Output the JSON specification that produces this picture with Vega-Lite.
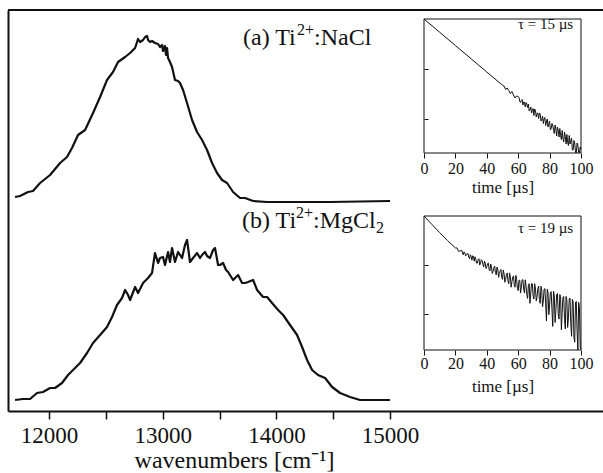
{
  "$schema": "https://vega.github.io/schema/vega-lite/v6.json",
  "autosize": "none",
  "width": 595,
  "height": 401,
  "padding": {"left": 8, "top": 10, "right": 0, "bottom": 62},
  "background": "white",
  "config": {
    "font": "Liberation Serif",
    "view": {"stroke": null},
    "style": {"guide-label": {"font": "Liberation Serif"}, "guide-title": {"font": "Liberation Serif"}},
    "axis": {"grid": false, "labelFont": "Liberation Serif", "titleFont": "Liberation Serif", "titleFontWeight": "normal", "labelColor": "#111", "titleColor": "#111", "domainColor": "#111", "tickColor": "#111"},
    "text": {"font": "Liberation Serif", "color": "#111"}
  },
  "datasets": {
    "spectra": [
      {"s":"a","w":11701,"v":2.14},{"s":"a","w":11745,"v":2.15},{"s":"a","w":11815,"v":2.19},{"s":"a","w":11859,"v":2.2},{"s":"a","w":11921,"v":2.28},{"s":"a","w":12009,"v":2.36},{"s":"a","w":12097,"v":2.48},{"s":"a","w":12158,"v":2.54},{"s":"a","w":12202,"v":2.63},{"s":"a","w":12255,"v":2.76},{"s":"a","w":12317,"v":2.81},{"s":"a","w":12387,"v":2.98},{"s":"a","w":12449,"v":3.14},{"s":"a","w":12510,"v":3.31},{"s":"a","w":12563,"v":3.39},{"s":"a","w":12607,"v":3.49},{"s":"a","w":12669,"v":3.54},{"s":"a","w":12713,"v":3.58},{"s":"a","w":12757,"v":3.63},{"s":"a","w":12783,"v":3.72},{"s":"a","w":12801,"v":3.69},{"s":"a","w":12827,"v":3.71},{"s":"a","w":12845,"v":3.74},{"s":"a","w":12862,"v":3.75},{"s":"a","w":12871,"v":3.71},{"s":"a","w":12889,"v":3.69},{"s":"a","w":12906,"v":3.7},{"s":"a","w":12932,"v":3.68},{"s":"a","w":12959,"v":3.67},{"s":"a","w":12976,"v":3.64},{"s":"a","w":12994,"v":3.66},{"s":"a","w":13003,"v":3.6},{"s":"a","w":13020,"v":3.65},{"s":"a","w":13029,"v":3.56},{"s":"a","w":13038,"v":3.63},{"s":"a","w":13047,"v":3.53},{"s":"a","w":13064,"v":3.49},{"s":"a","w":13082,"v":3.44},{"s":"a","w":13108,"v":3.31},{"s":"a","w":13135,"v":3.3},{"s":"a","w":13152,"v":3.28},{"s":"a","w":13179,"v":3.21},{"s":"a","w":13214,"v":3.08},{"s":"a","w":13258,"v":2.91},{"s":"a","w":13302,"v":2.79},{"s":"a","w":13346,"v":2.71},{"s":"a","w":13390,"v":2.61},{"s":"a","w":13434,"v":2.48},{"s":"a","w":13478,"v":2.38},{"s":"a","w":13522,"v":2.31},{"s":"a","w":13566,"v":2.28},{"s":"a","w":13619,"v":2.19},{"s":"a","w":13680,"v":2.13},{"s":"a","w":13724,"v":2.13},{"s":"a","w":13795,"v":2.1},{"s":"a","w":13918,"v":2.09},{"s":"a","w":14472,"v":2.09},{"s":"a","w":15000,"v":2.1},
      {"s":"b","w":11701,"v":0.11},{"s":"b","w":11771,"v":0.12},{"s":"b","w":11833,"v":0.12},{"s":"b","w":11894,"v":0.18},{"s":"b","w":11947,"v":0.19},{"s":"b","w":12009,"v":0.23},{"s":"b","w":12053,"v":0.23},{"s":"b","w":12114,"v":0.28},{"s":"b","w":12167,"v":0.36},{"s":"b","w":12229,"v":0.43},{"s":"b","w":12273,"v":0.48},{"s":"b","w":12334,"v":0.58},{"s":"b","w":12387,"v":0.68},{"s":"b","w":12449,"v":0.76},{"s":"b","w":12510,"v":0.84},{"s":"b","w":12554,"v":0.94},{"s":"b","w":12598,"v":1.06},{"s":"b","w":12642,"v":1.13},{"s":"b","w":12669,"v":1.21},{"s":"b","w":12695,"v":1.16},{"s":"b","w":12713,"v":1.11},{"s":"b","w":12757,"v":1.24},{"s":"b","w":12783,"v":1.18},{"s":"b","w":12827,"v":1.28},{"s":"b","w":12871,"v":1.33},{"s":"b","w":12906,"v":1.38},{"s":"b","w":12932,"v":1.58},{"s":"b","w":12959,"v":1.48},{"s":"b","w":12976,"v":1.53},{"s":"b","w":13003,"v":1.54},{"s":"b","w":13020,"v":1.46},{"s":"b","w":13047,"v":1.59},{"s":"b","w":13064,"v":1.49},{"s":"b","w":13082,"v":1.63},{"s":"b","w":13108,"v":1.49},{"s":"b","w":13135,"v":1.59},{"s":"b","w":13170,"v":1.53},{"s":"b","w":13196,"v":1.66},{"s":"b","w":13214,"v":1.71},{"s":"b","w":13240,"v":1.49},{"s":"b","w":13267,"v":1.53},{"s":"b","w":13302,"v":1.58},{"s":"b","w":13328,"v":1.53},{"s":"b","w":13346,"v":1.56},{"s":"b","w":13372,"v":1.59},{"s":"b","w":13390,"v":1.55},{"s":"b","w":13416,"v":1.53},{"s":"b","w":13443,"v":1.61},{"s":"b","w":13460,"v":1.63},{"s":"b","w":13487,"v":1.46},{"s":"b","w":13504,"v":1.46},{"s":"b","w":13531,"v":1.48},{"s":"b","w":13557,"v":1.41},{"s":"b","w":13575,"v":1.39},{"s":"b","w":13619,"v":1.31},{"s":"b","w":13663,"v":1.36},{"s":"b","w":13698,"v":1.28},{"s":"b","w":13724,"v":1.28},{"s":"b","w":13751,"v":1.29},{"s":"b","w":13795,"v":1.31},{"s":"b","w":13830,"v":1.21},{"s":"b","w":13883,"v":1.14},{"s":"b","w":13918,"v":1.14},{"s":"b","w":13962,"v":1.08},{"s":"b","w":14015,"v":1.01},{"s":"b","w":14059,"v":0.96},{"s":"b","w":14120,"v":0.86},{"s":"b","w":14182,"v":0.76},{"s":"b","w":14226,"v":0.64},{"s":"b","w":14270,"v":0.51},{"s":"b","w":14314,"v":0.41},{"s":"b","w":14366,"v":0.36},{"s":"b","w":14428,"v":0.33},{"s":"b","w":14490,"v":0.24},{"s":"b","w":14560,"v":0.18},{"s":"b","w":14648,"v":0.14},{"s":"b","w":14736,"v":0.11},{"s":"b","w":14982,"v":0.11},{"s":"b","w":15000,"v":0.11}
    ],
    "labels": [
      {"w":13707,"v":3.66,"head":"(a) Ti","sup":"2+","tail":":NaCl"},
      {"w":13698,"v":1.83,"head":"(b) Ti","sup":"2+","tail":":MgCl"}
    ],
    "subs": [
      {"w":13698,"v":1.83,"sub":"2"}
    ],
    "d1": [
      {"t":0,"l":0},{"t":10,"l":-0.265},{"t":20,"l":-0.53},{"t":30,"l":-0.795},{"t":40,"l":-1.06},{"t":50,"l":-1.325},
      {"t":51,"l":-1.34},{"t":52,"l":-1.41},{"t":53,"l":-1.38},{"t":54,"l":-1.43},{"t":55,"l":-1.49},{"t":56,"l":-1.45},{"t":57,"l":-1.52},{"t":58,"l":-1.58},{"t":59,"l":-1.54},{"t":60,"l":-1.55},
      {"t":61,"l":-1.65},{"t":62,"l":-1.63},{"t":63,"l":-1.72},{"t":64,"l":-1.67},{"t":65,"l":-1.67},{"t":66,"l":-1.77},{"t":67,"l":-1.84},{"t":68,"l":-1.76},{"t":69,"l":-1.83},{"t":70,"l":-1.93},
      {"t":71,"l":-1.83},{"t":72,"l":-1.89},{"t":73,"l":-1.99},{"t":74,"l":-1.9},{"t":75,"l":-2.02},{"t":76,"l":-2.09},{"t":77,"l":-1.97},{"t":78,"l":-2.06},{"t":79,"l":-2.16},{"t":80,"l":-2.04},
      {"t":81,"l":-2.19},{"t":82,"l":-2.12},{"t":83,"l":-2.29},{"t":84,"l":-2.2},{"t":85,"l":-2.16},{"t":86,"l":-2.36},{"t":87,"l":-2.33},{"t":88,"l":-2.23},{"t":89,"l":-2.46},{"t":90,"l":-2.35},
      {"t":91,"l":-2.31},{"t":92,"l":-2.53},{"t":93,"l":-2.5},{"t":94,"l":-2.38},{"t":95,"l":-2.62},{"t":96,"l":-2.48},{"t":97,"l":-2.68},{"t":98,"l":-2.52},{"t":99,"l":-2.67},{"t":100,"l":-2.6},
      {"t":60.5,"l":-1.57},{"t":61.5,"l":-1.67},{"t":62.5,"l":-1.61},{"t":63.5,"l":-1.66},{"t":64.5,"l":-1.76},{"t":65.5,"l":-1.7},{"t":66.5,"l":-1.7},{"t":67.5,"l":-1.82},{"t":68.5,"l":-1.88},{"t":69.5,"l":-1.79},
      {"t":70.5,"l":-1.8},{"t":71.5,"l":-1.96},{"t":72.5,"l":-1.88},{"t":73.5,"l":-1.88},{"t":74.5,"l":-2.04},{"t":75.5,"l":-1.94},{"t":76.5,"l":-2.0},{"t":77.5,"l":-2.13},{"t":78.5,"l":-2.0},{"t":79.5,"l":-2.09},
      {"t":80.5,"l":-2.22},{"t":81.5,"l":-2.09},{"t":82.5,"l":-2.23},{"t":83.5,"l":-2.12},{"t":84.5,"l":-2.34},{"t":85.5,"l":-2.23},{"t":86.5,"l":-2.19},{"t":87.5,"l":-2.41},{"t":88.5,"l":-2.38},{"t":89.5,"l":-2.26},
      {"t":90.5,"l":-2.5},{"t":91.5,"l":-2.47},{"t":92.5,"l":-2.33},{"t":93.5,"l":-2.43},{"t":94.5,"l":-2.62},{"t":95.5,"l":-2.43},{"t":96.5,"l":-2.66},{"t":97.5,"l":-2.48},{"t":98.5,"l":-2.67},{"t":99.5,"l":-2.56}
    ],
    "d2": [
      {"t":0,"l":0},{"t":5,"l":-0.17},{"t":10,"l":-0.34},{"t":15,"l":-0.5},{"t":20,"l":-0.65},
      {"t":21,"l":-0.65},{"t":22,"l":-0.72},{"t":23,"l":-0.71},{"t":24,"l":-0.7},{"t":25,"l":-0.79},{"t":26,"l":-0.75},{"t":27,"l":-0.8},{"t":28,"l":-0.76},{"t":29,"l":-0.87},{"t":30,"l":-0.82},
      {"t":31,"l":-0.81},{"t":32,"l":-0.92},{"t":33,"l":-0.88},{"t":34,"l":-0.96},{"t":35,"l":-0.87},{"t":36,"l":-0.96},{"t":37,"l":-0.91},{"t":38,"l":-1.04},{"t":39,"l":-0.96},{"t":40,"l":-1.03},
      {"t":41,"l":-0.96},{"t":42,"l":-1.12},{"t":43,"l":-1.04},{"t":44,"l":-1.13},{"t":45,"l":-1.02},{"t":46,"l":-1.2},{"t":47,"l":-1.08},{"t":48,"l":-1.17},{"t":49,"l":-1.09},{"t":50,"l":-1.29},
      {"t":51,"l":-1.18},{"t":52,"l":-1.29},{"t":53,"l":-1.16},{"t":54,"l":-1.38},{"t":55,"l":-1.24},{"t":56,"l":-1.34},{"t":57,"l":-1.22},{"t":58,"l":-1.45},{"t":59,"l":-1.29},{"t":60,"l":-1.52},
      {"t":61,"l":-1.31},{"t":62,"l":-1.45},{"t":63,"l":-1.3},{"t":64,"l":-1.57},{"t":65,"l":-1.43},{"t":66,"l":-1.68},{"t":67,"l":-1.38},{"t":68,"l":-1.57},{"t":69,"l":-1.38},{"t":70,"l":-1.69},
      {"t":71,"l":-1.49},{"t":72,"l":-1.65},{"t":73,"l":-1.43},{"t":74,"l":-1.78},{"t":75,"l":-1.51},{"t":76,"l":-1.73},{"t":77,"l":-1.48},{"t":78,"l":-2.14},{"t":79,"l":-1.56},{"t":80,"l":-1.82},
      {"t":81,"l":-1.54},{"t":82,"l":-2.25},{"t":83,"l":-1.63},{"t":84,"l":-1.92},{"t":85,"l":-1.58},{"t":86,"l":-2.1},{"t":87,"l":-1.64},{"t":88,"l":-1.96},{"t":89,"l":-1.64},{"t":90,"l":-2.3},
      {"t":91,"l":-1.71},{"t":92,"l":-2.07},{"t":93,"l":-1.67},{"t":94,"l":-2.45},{"t":95,"l":-1.74},{"t":96,"l":-2.57},{"t":97,"l":-1.74},{"t":98,"l":-2.73},{"t":99,"l":-1.86},{"t":100,"l":-2.72},
      {"t":25.5,"l":-0.73},{"t":26.5,"l":-0.81},{"t":27.5,"l":-0.77},{"t":28.5,"l":-0.84},{"t":29.5,"l":-0.79},{"t":30.5,"l":-0.9},{"t":31.5,"l":-0.83},{"t":32.5,"l":-0.83},{"t":33.5,"l":-0.96},{"t":34.5,"l":-0.89},
      {"t":35.5,"l":-1.0},{"t":36.5,"l":-0.89},{"t":37.5,"l":-0.98},{"t":38.5,"l":-0.92},{"t":39.5,"l":-1.07},{"t":40.5,"l":-0.97},{"t":41.5,"l":-1.09},{"t":42.5,"l":-0.98},{"t":43.5,"l":-1.17},{"t":44.5,"l":-1.06},
      {"t":45.5,"l":-1.15},{"t":46.5,"l":-1.04},{"t":47.5,"l":-1.25},{"t":48.5,"l":-1.12},{"t":49.5,"l":-1.25},{"t":50.5,"l":-1.1},{"t":51.5,"l":-1.35},{"t":52.5,"l":-1.19},{"t":53.5,"l":-1.33},{"t":54.5,"l":-1.16},
      {"t":55.5,"l":-1.45},{"t":56.5,"l":-1.25},{"t":57.5,"l":-1.41},{"t":58.5,"l":-1.21},{"t":59.5,"l":-1.48},{"t":60.5,"l":-1.31},{"t":61.5,"l":-1.57},{"t":62.5,"l":-1.3},{"t":63.5,"l":-1.49},{"t":64.5,"l":-1.3},
      {"t":65.5,"l":-1.6},{"t":66.5,"l":-1.41},{"t":67.5,"l":-1.78},{"t":68.5,"l":-1.38},{"t":69.5,"l":-1.63},{"t":70.5,"l":-1.38},{"t":71.5,"l":-1.73},{"t":72.5,"l":-1.48},{"t":73.5,"l":-1.7},{"t":74.5,"l":-1.43},
      {"t":75.5,"l":-1.85},{"t":76.5,"l":-1.49},{"t":77.5,"l":-1.79},{"t":78.5,"l":-1.49},{"t":79.5,"l":-2.01},{"t":80.5,"l":-1.56},{"t":81.5,"l":-1.91},{"t":82.5,"l":-1.53},{"t":83.5,"l":-2.17},{"t":84.5,"l":-1.6},
      {"t":85.5,"l":-1.99},{"t":86.5,"l":-1.6},{"t":87.5,"l":-2.32},{"t":88.5,"l":-1.66},{"t":89.5,"l":-2.09},{"t":90.5,"l":-1.64},{"t":91.5,"l":-2.27},{"t":92.5,"l":-1.69},{"t":93.5,"l":-2.19},{"t":94.5,"l":-1.7},
      {"t":95.5,"l":-2.47},{"t":96.5,"l":-1.76},{"t":97.5,"l":-2.34},{"t":98.5,"l":-1.76},{"t":99.5,"l":-2.67}
    ]
  },
  "layer": [
    {
      "layer": [
        {
          "data": {"name": "spectra"},
          "mark": {"type": "line", "stroke": "#111", "strokeWidth": 2.2, "strokeJoin": "round"},
          "encoding": {
            "x": {"field": "w", "type": "quantitative",
              "scale": {"domain": [11639, 16873], "nice": false, "zero": false},
              "axis": {"orient": "bottom", "values": [12000, 12500, 13000, 13500, 14000, 14500, 15000], "format": "d",
                "labelExpr": "datum.value % 1000 === 0 ? datum.label : ''",
                "domainWidth": 2, "tickWidth": 1.5, "tickSize": 8, "labelFont": "Liberation Serif", "labelFontSize": 23, "labelPadding": 23, "labelBaseline": "alphabetic",
                "labelFlush": false, "labelOverlap": false,
                "title": "wavenumbers [cm⁻¹]", "titleFont": "Liberation Serif", "titleFontSize": 24, "titleFontWeight": "normal", "titleX": 226, "titleY": 56, "titleBaseline": "alphabetic", "titleAlign": "center"}},
            "y": {"field": "v", "type": "quantitative",
              "scale": {"domain": [0, 4.01], "nice": false, "zero": false},
              "axis": {"orient": "left", "domainWidth": 2, "ticks": false, "labels": false, "title": null}},
            "detail": {"field": "s"}
          }
        },
        {
          "data": {"name": "labels"},
          "mark": {"type": "text", "align": "left", "baseline": "alphabetic", "fontSize": 24, "font": "Liberation Serif"},
          "encoding": {
            "x": {"field": "w", "type": "quantitative"},
            "y": {"field": "v", "type": "quantitative"},
            "text": {"field": "head"}
          }
        },
        {
          "data": {"name": "labels"},
          "mark": {"type": "text", "align": "left", "baseline": "alphabetic", "fontSize": 16, "font": "Liberation Serif", "dx": 54, "dy": -10},
          "encoding": {
            "x": {"field": "w", "type": "quantitative"},
            "y": {"field": "v", "type": "quantitative"},
            "text": {"field": "sup"}
          }
        },
        {
          "data": {"name": "labels"},
          "mark": {"type": "text", "align": "left", "baseline": "alphabetic", "fontSize": 24, "font": "Liberation Serif", "dx": 71},
          "encoding": {
            "x": {"field": "w", "type": "quantitative"},
            "y": {"field": "v", "type": "quantitative"},
            "text": {"field": "tail"}
          }
        },
        {
          "data": {"name": "subs"},
          "mark": {"type": "text", "align": "left", "baseline": "alphabetic", "fontSize": 16, "font": "Liberation Serif", "dx": 134, "dy": 5},
          "encoding": {
            "x": {"field": "w", "type": "quantitative"},
            "y": {"field": "v", "type": "quantitative"},
            "text": {"field": "sub"}
          }
        },
        {
          "data": {"values": [{}]},
          "mark": {"type": "rule", "strokeWidth": 2, "color": "#111"},
          "encoding": {"y": {"datum": 4.01}}
        }
      ]
    },
    {
      "layer": [
        {
          "data": {"name": "d1"},
          "mark": {"type": "line", "stroke": "#111", "strokeWidth": 1},
          "encoding": {
            "x": {"field": "t", "type": "quantitative",
              "scale": {"domain": [0, 100], "range": [416, 573], "nice": false, "zero": false},
              "axis": {"orient": "bottom", "offset": -258, "values": [0, 20, 40, 60, 80, 100], "domain": false, "tickSize": 5, "tickWidth": 1,
                "labelFont": "Liberation Serif", "labelFontSize": 16, "labelPadding": 15, "labelBaseline": "alphabetic", "labelFlush": false, "labelOverlap": false,
                "title": "time [µs]", "titleFont": "Liberation Serif", "titleFontWeight": "normal", "titleFontSize": 17, "titleY": 39, "titleBaseline": "alphabetic"}},
            "y": {"field": "l", "type": "quantitative",
              "scale": {"domain": [-2.68, 0], "range": [143, 9], "nice": false, "zero": false},
              "axis": {"orient": "left", "offset": -416, "values": [-1, -2], "domain": false, "tickSize": -4, "labels": false, "title": null}}
          }
        },
        {
          "data": {"values": [{"t0": 0, "t1": 100, "l0": -2.68, "l1": 0}]},
          "mark": {"type": "rect", "fill": null, "stroke": "#111", "strokeWidth": 1},
          "encoding": {
            "x": {"field": "t0", "type": "quantitative"}, "x2": {"field": "t1"},
            "y": {"field": "l0", "type": "quantitative"}, "y2": {"field": "l1"}
          }
        },
        {
          "data": {"values": [{"t": 95, "l": -0.2, "label": "τ = 15 µs"}]},
          "mark": {"type": "text", "align": "right", "baseline": "alphabetic", "fontSize": 15, "font": "Liberation Serif"},
          "encoding": {
            "x": {"field": "t", "type": "quantitative"},
            "y": {"field": "l", "type": "quantitative"},
            "text": {"field": "label"}
          }
        }
      ]
    },
    {
      "layer": [
        {
          "data": {"name": "d2"},
          "mark": {"type": "line", "stroke": "#111", "strokeWidth": 1},
          "encoding": {
            "x": {"field": "t", "type": "quantitative",
              "scale": {"domain": [0, 100], "range": [416, 573], "nice": false, "zero": false},
              "axis": {"orient": "bottom", "offset": -61, "values": [0, 20, 40, 60, 80, 100], "domain": false, "tickSize": 5, "tickWidth": 1,
                "labelFont": "Liberation Serif", "labelFontSize": 16, "labelPadding": 13, "labelBaseline": "alphabetic", "labelFlush": false, "labelOverlap": false,
                "title": "time [µs]", "titleFont": "Liberation Serif", "titleFontWeight": "normal", "titleFontSize": 17, "titleY": 41, "titleBaseline": "alphabetic"}},
            "y": {"field": "l", "type": "quantitative",
              "scale": {"domain": [-2.73, 0], "range": [340, 206], "nice": false, "zero": false},
              "axis": {"orient": "left", "offset": -416, "values": [-1, -2], "domain": false, "tickSize": -4, "labels": false, "title": null}}
          }
        },
        {
          "data": {"values": [{"t0": 0, "t1": 100, "l0": -2.73, "l1": 0}]},
          "mark": {"type": "rect", "fill": null, "stroke": "#111", "strokeWidth": 1},
          "encoding": {
            "x": {"field": "t0", "type": "quantitative"}, "x2": {"field": "t1"},
            "y": {"field": "l0", "type": "quantitative"}, "y2": {"field": "l1"}
          }
        },
        {
          "data": {"values": [{"t": 95, "l": -0.35, "label": "τ = 19 µs"}]},
          "mark": {"type": "text", "align": "right", "baseline": "alphabetic", "fontSize": 15, "font": "Liberation Serif"},
          "encoding": {
            "x": {"field": "t", "type": "quantitative"},
            "y": {"field": "l", "type": "quantitative"},
            "text": {"field": "label"}
          }
        }
      ]
    }
  ],
  "resolve": {
    "scale": {"x": "independent", "y": "independent"},
    "axis": {"x": "independent", "y": "independent"}
  }
}
